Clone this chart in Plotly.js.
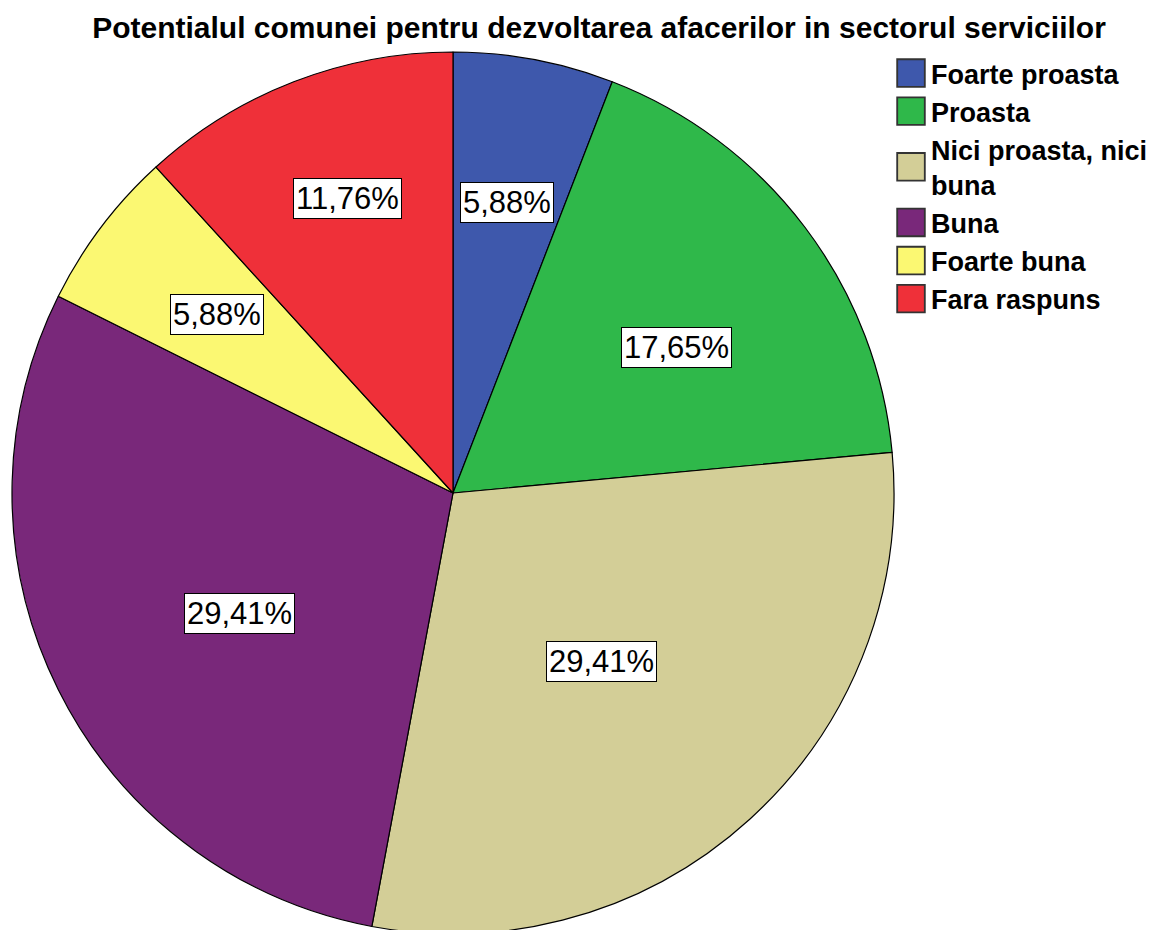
<!DOCTYPE html>
<html>
<head>
<meta charset="utf-8">
<script src="https://cdn.plot.ly/plotly-3.0.1.min.js"></script>
<style>
  html, body { margin: 0; padding: 0; overflow: hidden; background: #fff; }
  #chart { width: 1175px; height: 960px; }
</style>
</head>
<body>
<div id="chart"></div>
<script>
// ---- data ----
const categories = ["Foarte proasta", "Proasta", "Nici proasta, nici buna", "Buna", "Foarte buna", "Fara raspuns"];
const legendLabels = ["Foarte proasta", "Proasta", "Nici proasta, nici<br>buna", "Buna", "Foarte buna", "Fara raspuns"];
const percentValues = [5.88, 17.65, 29.41, 29.41, 5.88, 11.76];
const sliceColors = ["#3e58ac", "#2fb84a", "#d3ce97", "#79287a", "#fbf872", "#ef3039"];

// ---- layout constants (style / placement, not data) ----
const W = 1175, H = 960;
const pieLeft = 12, pieRight = 894, pieTop = 52, pieBottom = 934;
const labelRadius = [0.67, 0.605, 0.51, 0.555, 0.67, 0.71];
const labelAngleNudgeDeg = [0, 4, 1, -3, 0, 1.4];

const cx = (pieLeft + pieRight) / 2;
const cy = (pieTop + pieBottom) / 2;
const R = (pieRight - pieLeft) / 2;

const total = percentValues.reduce((a, b) => a + b, 0);
let cum = 0;
const annotations = percentValues.map((v, i) => {
  const mid = (cum + v / 2) / total * 2 * Math.PI + labelAngleNudgeDeg[i] * Math.PI / 180;
  cum += v;
  const r = R * labelRadius[i];
  const px = cx + r * Math.sin(mid);
  const py = cy - r * Math.cos(mid);
  return {
    x: px / W, y: 1 - py / H, xref: 'paper', yref: 'paper',
    xanchor: 'center', yanchor: 'middle', showarrow: false,
    text: v.toFixed(2).replace('.', ',') + '%',
    font: { family: 'Liberation Sans, Arial, sans-serif', size: 31, color: '#000' },
    bgcolor: '#ffffff', bordercolor: '#000000', borderwidth: 1, borderpad: 2
  };
});

const trace = {
  type: 'pie',
  labels: legendLabels,
  values: percentValues,
  marker: { colors: sliceColors, line: { color: '#000000', width: 1.2 } },
  sort: false,
  direction: 'clockwise',
  rotation: 0,
  textinfo: 'none',
  hoverinfo: 'label+percent',
  domain: { x: [pieLeft / W, pieRight / W], y: [1 - pieBottom / H, 1 - pieTop / H] }
};

const layout = {
  width: W, height: H,
  margin: { l: 0, r: 0, t: 0, b: 0, autoexpand: false },
  paper_bgcolor: '#ffffff',
  title: {
    text: 'Potentialul comunei pentru dezvoltarea afacerilor in sectorul serviciilor',
    font: { family: 'Liberation Sans, Arial, sans-serif', size: 30, weight: 'bold', color: '#000' },
    x: 599 / W, xanchor: 'center', xref: 'container',
    y: 1 - 27 / H, yanchor: 'middle', yref: 'container'
  },
  showlegend: true,
  legend: {
    x: 891 / W, xanchor: 'left', y: 1 - 49 / H, yanchor: 'top',
    font: { family: 'Liberation Sans, Arial, sans-serif', size: 27, weight: 'bold', color: '#000' },
    bgcolor: 'rgba(0,0,0,0)', borderwidth: 0, tracegroupgap: 0
  },
  annotations: annotations
};

Plotly.newPlot('chart', [trace], layout, { staticPlot: true, displayModeBar: false }).then(() => {
  document.querySelectorAll('#chart .legendpoints path').forEach(p => {
    p.setAttribute('transform', 'translate(20,0) scale(2.3)');
    p.style.strokeWidth = '0.8px';
    p.style.stroke = '#333';
  });
});
</script>
</body>
</html>
